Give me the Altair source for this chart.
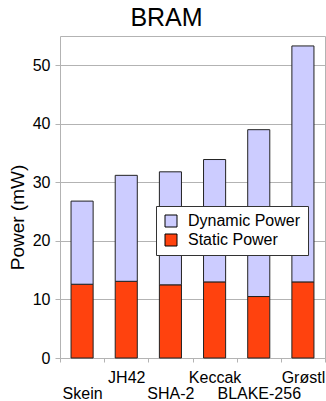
import altair as alt
import pandas as pd

algorithms = ["Skein", "JH42", "SHA-2", "Keccak", "BLAKE-256", "Grøstl"]
static_power = [12.6, 13.1, 12.5, 13.0, 10.5, 13.0]
dynamic_power = [14.2, 18.1, 19.3, 20.9, 28.5, 40.3]
series = ["Dynamic Power", "Static Power"]
colors = ["#ccccff", "#ff420e"]
lower_row = ["Skein", "SHA-2", "BLAKE-256"]

rows = []
for a, s, d in zip(algorithms, static_power, dynamic_power):
    rows.append({"alg": a, "series": "Static Power", "value": s, "ord": 0})
    rows.append({"alg": a, "series": "Dynamic Power", "value": d, "ord": 1})
df = pd.DataFrame(rows)

FONT = "Liberation Sans"
label_expr = "indexof(" + str(lower_row).replace("'", '"') + ", datum.value) >= 0 ? 23 : 7"

chart = (
    alt.Chart(df)
    .mark_bar(width=alt.RelativeBandSize(0.5), stroke="#222222", strokeWidth=1, opacity=1)
    .encode(
        x=alt.X(
            "alg:N",
            sort=algorithms,
            scale=alt.Scale(paddingInner=0, paddingOuter=0),
            axis=alt.Axis(
                title=None,
                labelAngle=0,
                labelFontSize=16,
                labelFont=FONT,
                labelColor="#000000",
                labelBaseline="top",
                labelPadding=alt.ExprRef(label_expr),
                tickBand="extent",
                tickSize=4,
                tickColor="#b3b3b3",
                domainColor="#b3b3b3",
                grid=False,
            ),
        ),
        y=alt.Y(
            "value:Q",
            stack="zero",
            scale=alt.Scale(domain=[0, 55], nice=False),
            axis=alt.Axis(
                title="Power (mW)",
                values=[0, 10, 20, 30, 40, 50],
                labelFontSize=16,
                labelFont=FONT,
                labelColor="#000000",
                labelPadding=5,
                tickSize=5,
                tickColor="#b3b3b3",
                gridColor="#b3b3b3",
                domain=False,
                titleFont=FONT,
                titleFontSize=19,
                titleFontWeight="normal",
                titleColor="#000000",
                titleAngle=270,
                titleX=-43,
                titleY=181,
                titleAlign="center",
                titleBaseline="middle",
            ),
        ),
        color=alt.Color(
            "series:N",
            scale=alt.Scale(domain=series, range=colors),
            legend=alt.Legend(
                title=None,
                orient="none",
                legendX=96,
                legendY=170,
                fillColor="#ffffff",
                strokeColor="#333333",
                padding=7,
                symbolType="square",
                symbolSize=144,
                symbolStrokeColor="#000000",
                symbolStrokeWidth=1,
                symbolOpacity=1,
                labelFont=FONT,
                labelFontSize=16,
                labelColor="#000000",
                labelOffset=9,
                rowPadding=3,
            ),
        ),
        order=alt.Order("ord:Q"),
    )
    .properties(
        width=265,
        height=322,
        title=alt.TitleParams(
            text="BRAM",
            font=FONT,
            fontSize=25,
            fontWeight="normal",
            color="#000000",
            anchor="middle",
            frame="group",
            dx=-26,
            offset=5,
        ),
        autosize=alt.AutoSizeParams(type="none"),
        padding={"left": 60, "top": 36, "right": 1, "bottom": 43},
    )
    .configure_view(stroke="#b3b3b3", strokeWidth=1)
)

chart.save("out.html", embed_options={"renderer": "svg", "actions": False})
